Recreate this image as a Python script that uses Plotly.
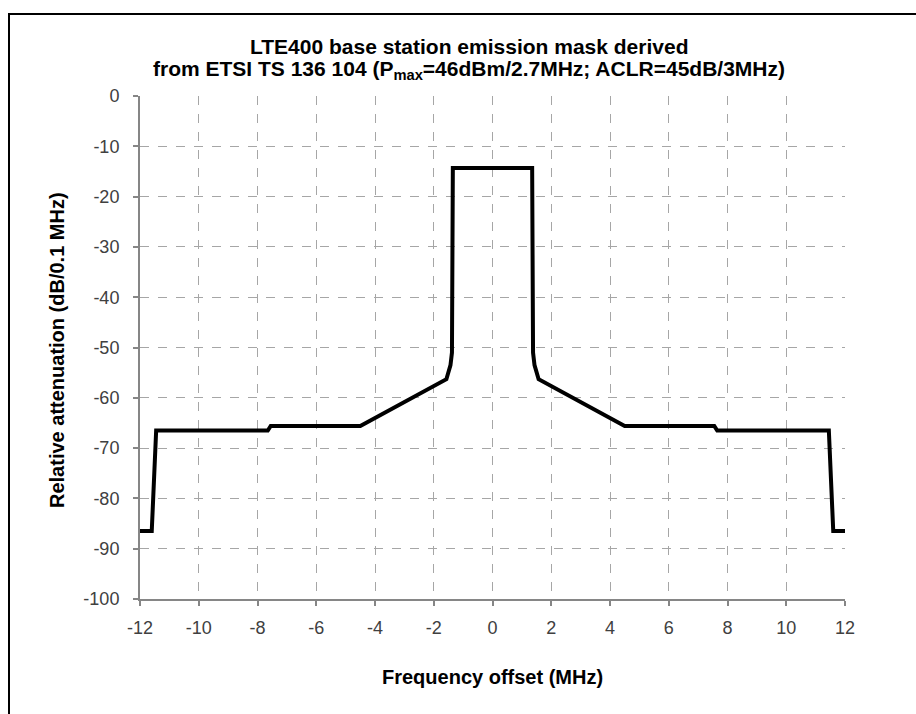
import plotly.graph_objects as go

# Emission mask data (frequency offset in MHz, relative attenuation dB/0.1 MHz)
freq_offset = [-12, -11.6, -11.45, -7.65, -7.55, -4.5, -1.57, -1.43, -1.38, -1.35,
               1.35, 1.38, 1.43, 1.57, 4.5, 7.55, 7.65, 11.45, 11.6, 12]
attenuation = [-86.5, -86.5, -66.5, -66.5, -65.6, -65.6, -56.3, -53.5, -51, -14.3,
               -14.3, -51, -53.5, -56.3, -65.6, -65.6, -66.5, -66.5, -86.5, -86.5]

x_ticks = list(range(-12, 13, 2))
y_ticks = list(range(-100, 1, 10))

W, H = 916, 714
L, R, T, B = 140, 71, 96, 115
PW, PH = W - L - R, H - T - B

def px(x):
    return (x - L) / PW

def py(y):
    return (H - B - y) / PH

fig = go.Figure()
fig.add_trace(go.Scatter(
    x=freq_offset, y=attenuation, mode="lines",
    line=dict(color="black", width=4), showlegend=False, hoverinfo="skip",
))

font_family = "Liberation Sans, Arial, sans-serif"

fig.update_layout(
    width=W, height=H,
    margin=dict(l=L, r=R, t=T, b=B),
    paper_bgcolor="white", plot_bgcolor="white",
    font=dict(family=font_family),
    xaxis=dict(
        range=[-12, 12], tickvals=x_ticks, ticktext=[str(v) for v in x_ticks],
        showline=True, linecolor="#868686", linewidth=2,
        ticks="outside", tickcolor="#868686", ticklen=5, tickwidth=2,
        showgrid=True, gridcolor="#a6a6a6", griddash="dash", gridwidth=1,
        zeroline=False, ticklabelstandoff=6,
        tickfont=dict(size=18, color="#404040", family=font_family),
    ),
    yaxis=dict(
        range=[-100, 0], tickvals=y_ticks, ticktext=[str(v) for v in y_ticks],
        showline=True, linecolor="#868686", linewidth=2,
        ticks="outside", tickcolor="#868686", ticklen=5, tickwidth=2,
        showgrid=True, gridcolor="#a6a6a6", griddash="dash", gridwidth=1,
        zeroline=False, ticklabelstandoff=10,
        tickfont=dict(size=18, color="#404040", family=font_family),
    ),
)

# Outer border (chart area frame)
fig.add_shape(type="rect", xref="paper", yref="paper",
              x0=px(9), x1=px(W + 20), y0=py(H + 20), y1=py(14),
              line=dict(color="black", width=2), fillcolor="rgba(0,0,0,0)", layer="below")

# Title (two lines)
fig.add_annotation(
    xref="paper", yref="paper", x=px(469), y=py(46), xanchor="center", yanchor="middle",
    text="<b>LTE400 base station emission mask derived</b>",
    showarrow=False, font=dict(size=21, color="black", family=font_family),
)
fig.add_annotation(
    xref="paper", yref="paper", x=px(469), y=py(70), xanchor="center", yanchor="middle",
    text="<b>from ETSI TS 136 104 (P<sub>max</sub>=46dBm/2.7MHz; ACLR=45dB/3MHz)</b>",
    showarrow=False, font=dict(size=21, color="black", family=font_family),
)
# Axis titles
fig.add_annotation(
    xref="paper", yref="paper", x=px(493), y=py(677), xanchor="center", yanchor="middle",
    text="<b>Frequency offset (MHz)</b>", showarrow=False,
    font=dict(size=20, color="black", family=font_family),
)
fig.add_annotation(
    xref="paper", yref="paper", x=px(57), y=py(350), xanchor="center", yanchor="middle",
    text="<b>Relative attenuation (dB/0.1 MHz)</b>", showarrow=False, textangle=-90,
    font=dict(size=20, color="black", family=font_family),
)

fig.write_html("out.html")
